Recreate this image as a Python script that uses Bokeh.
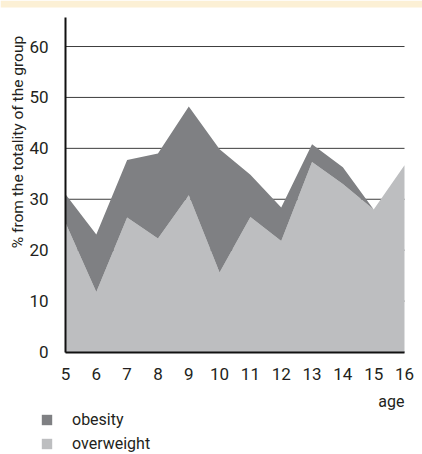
import math
from bokeh.plotting import figure
from bokeh.models import (ColumnDataSource, Legend, LegendItem, Label, FixedTicker, Range1d,
                          LinearAxis, BoxAnnotation)
from bokeh.embed import file_html
from bokeh.resources import INLINE

ages = [5, 6, 7, 8, 9, 10, 11, 12, 13, 14, 15, 16]
overweight = [25.4, 11.8, 26.4, 22.3, 30.8, 15.6, 26.5, 21.8, 37.3, 33.0, 28.0, 36.7]
obesity = [5.6, 11.3, 11.3, 16.7, 17.4, 24.2, 8.3, 6.6, 3.5, 3.3, 0.0, 0.0]
y_ticks = [0, 10, 20, 30, 40, 50, 60]
y_top = 65.7
series_names = ["overweight", "obesity"]
legend_order = ["obesity", "overweight"]
colors = {"overweight": "#bdbec0", "obesity": "#7f8083"}
y_title = "% from the totality of the group"
x_title = "age"

FONT = "Roboto"
TXT = "#231f20"

W, H = 422, 454
# pixel geometry of the plotting area inside the canvas
left_px, right_px, top_px, zero_px = 65, 404, 17, 351.5
xs = (right_px - left_px) / (ages[-1] - ages[0])
ys = (zero_px - top_px) / y_top
x_range = Range1d(ages[0] - left_px / xs, ages[-1] + (W - right_px) / xs)
y_range = Range1d(-(H - zero_px) / ys, y_top + top_px / ys)

src = ColumnDataSource(dict(age=ages, overweight=overweight, obesity=obesity))

p = figure(width=W, height=H, output_backend="svg", toolbar_location=None,
           x_range=x_range, y_range=y_range, x_axis_type=None, y_axis_type=None,
           min_border=0, min_border_left=0, min_border_right=0,
           min_border_top=0, min_border_bottom=0)
p.outline_line_color = None
p.background_fill_color = "white"
p.border_fill_color = "white"
p.grid.visible = False

# cream band at the top
p.add_layout(BoxAnnotation(bottom=y_range.end - 7 / ys, fill_color="#fcf0d5", fill_alpha=1,
                           line_color=None, level="underlay"))

# horizontal grid lines between first and last age
p.segment(x0=[ages[0]] * len(y_ticks), x1=[ages[-1]] * len(y_ticks), y0=y_ticks, y1=y_ticks,
          line_color="#3c3c3c", line_width=1)

rs = p.varea_stack(stackers=series_names, x="age", source=src,
                   color=[colors[s] for s in series_names])

xaxis = LinearAxis(fixed_location=0, bounds=(ages[0], ages[-1]), ticker=FixedTicker(ticks=ages))
yaxis = LinearAxis(fixed_location=ages[0], bounds=(0, y_top), ticker=FixedTicker(ticks=y_ticks))
for ax in (xaxis, yaxis):
    ax.axis_line_color = "#111111"
    ax.axis_line_width = 2
    ax.major_tick_line_color = None
    ax.minor_tick_line_color = None
    ax.major_label_text_font = FONT
    ax.major_label_text_font_size = "17px"
    ax.major_label_text_color = TXT
xaxis.major_label_standoff = 10
yaxis.major_label_standoff = 11
p.add_layout(xaxis, "below")
p.add_layout(yaxis, "left")

p.add_layout(Label(x=ages[0] - (left_px - 17.5) / xs, y=(zero_px - 141.5) / ys, text=y_title,
                   angle=math.pi / 2, text_align="center", text_baseline="middle",
                   text_font=FONT, text_font_size="15.5px", text_color=TXT))
p.add_layout(Label(x=ages[-1], y=-(401 - zero_px) / ys, text=x_title, text_align="right",
                   text_baseline="middle", text_font=FONT, text_font_size="16px", text_color=TXT))

rmap = dict(zip(series_names, rs))
items = [LegendItem(label=s, renderers=[rmap[s]]) for s in legend_order]
legend = Legend(items=items, location=(40, 1), orientation="vertical",
                glyph_width=13, glyph_height=13, label_height=13, label_standoff=19,
                spacing=5, padding=0, margin=0,
                border_line_color=None, background_fill_alpha=0,
                label_text_font=FONT, label_text_font_size="16px", label_text_color=TXT,
                label_text_baseline="middle")
p.add_layout(legend, "center")

open("out.html", "w").write(file_html(p, INLINE))
